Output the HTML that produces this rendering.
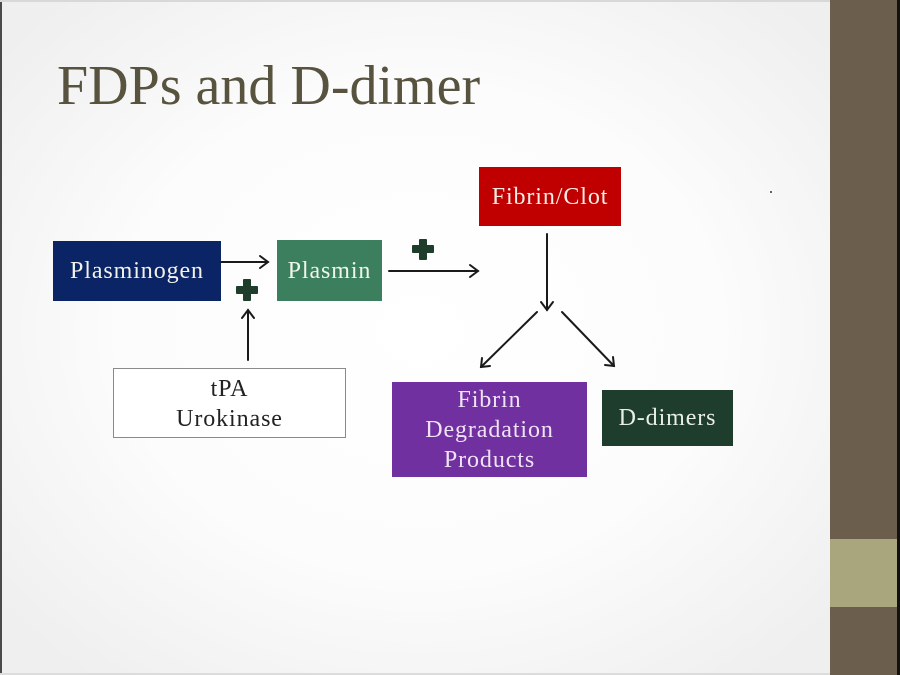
<!DOCTYPE html>
<html>
<head>
<meta charset="utf-8">
<style>
html,body{margin:0;padding:0;}
body{width:900px;height:675px;overflow:hidden;position:relative;
background:radial-gradient(ellipse 540px 440px at 420px 330px,#ffffff 0%,#fcfcfc 55%,#efefef 100%);
font-family:"Liberation Serif",serif;}
.lb{position:absolute;left:0;top:0;width:2px;height:675px;background:#4a4a4a;}
.tb{position:absolute;left:0;top:0;width:830px;height:2px;background:#d8d8d8;}
.bb{position:absolute;left:0;top:673px;width:830px;height:2px;background:#dcdcdc;}
.bar{position:absolute;left:830px;top:0;width:67px;height:675px;background:#6b5e4c;}
.bar2{position:absolute;left:830px;top:539px;width:67px;height:68px;background:#a9a57c;}
.edge{position:absolute;left:897px;top:0;width:3px;height:675px;background:#111;}
.title{position:absolute;left:57px;top:52px;font-size:56px;color:#57533f;white-space:nowrap;line-height:68px;}
.box{position:absolute;display:flex;align-items:center;justify-content:center;text-align:center;
font-size:24px;letter-spacing:0.9px;line-height:30px;color:#f2f2ea;box-sizing:border-box;}
</style>
</head>
<body>
<div class="lb"></div>
<div class="tb"></div>
<div class="bb"></div>
<div class="bar"></div>
<div class="bar2"></div>
<div class="edge"></div>

<div class="title">FDPs and D-dimer</div>

<div class="box" style="left:53px;top:241px;width:168px;height:60px;background:#0b2466;">Plasminogen</div>
<div class="box" style="left:277px;top:240px;width:105px;height:61px;background:#3b7f5f;color:#eef5ea;">Plasmin</div>
<div class="box" style="left:479px;top:167px;width:142px;height:59px;background:#c00000;color:#f7ece6;">Fibrin/Clot</div>
<div class="box" style="left:113px;top:368px;width:233px;height:70px;background:#ffffff;border:1px solid #8a8a8a;color:#222;padding-top:2px;">tPA<br>Urokinase</div>
<div class="box" style="left:392px;top:382px;width:195px;height:95px;background:#7030a0;color:#efe2f5;">Fibrin<br>Degradation<br>Products</div>
<div class="box" style="left:602px;top:390px;width:131px;height:56px;background:#1f3d2d;color:#e8eee8;">D-dimers</div>

<svg width="900" height="675" style="position:absolute;left:0;top:0;" xmlns="http://www.w3.org/2000/svg">
<g stroke="#1a1a1a" stroke-width="2" fill="none" stroke-linecap="round">
<line x1="221" y1="262" x2="268" y2="262"/>
<polyline points="260,256 268,262 260,268"/>
<line x1="389" y1="271" x2="478" y2="271"/>
<polyline points="470,265 478,271 470,277"/>
<line x1="248" y1="360" x2="248" y2="310"/>
<polyline points="242,318 248,310 254,318"/>
<line x1="547" y1="234" x2="547" y2="310"/>
<polyline points="541,302 547,310 553,302"/>
<line x1="537" y1="312" x2="481" y2="367"/>
<polyline points="482,358 481,367 490,366"/>
<line x1="562" y1="312" x2="614" y2="366"/>
<polyline points="605,365 614,366 613,357"/>
</g>
<g fill="#1e3d2b">
<rect x="243" y="279" width="8" height="22" rx="1"/>
<rect x="236" y="286" width="22" height="8" rx="1"/>
<rect x="419" y="239" width="8" height="21" rx="1"/>
<rect x="412" y="245" width="22" height="8" rx="1"/>
</g>
<circle cx="771" cy="192" r="1" fill="#333"/>
</svg>
</body>
</html>
